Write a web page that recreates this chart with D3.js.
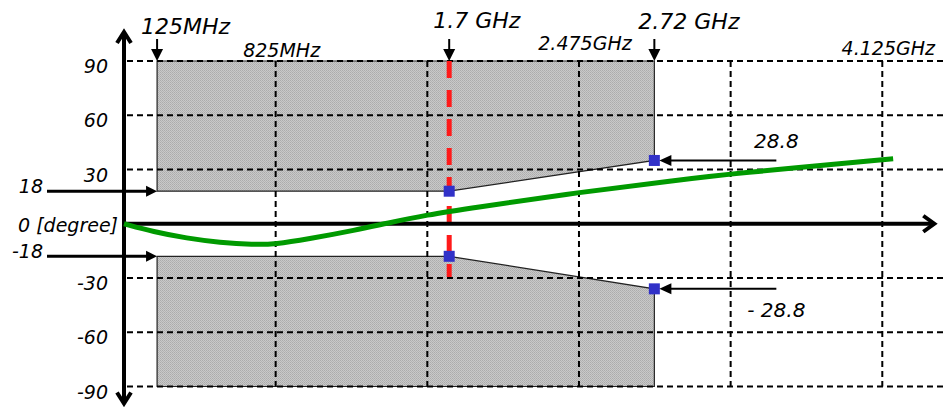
<!DOCTYPE html>
<html>
<head>
<meta charset="utf-8">
<script src="https://cdn.jsdelivr.net/npm/d3@7"></script>
<style>
  body { margin: 0; background: #fff; }
  text { font-family: "DejaVu Sans", sans-serif; font-style: italic; fill: #000; }
</style>
</head>
<body>
<div id="chart"></div>
<script>
// phase axis ticks [degree]
const yTicks = [90, 60, 30, -30, -60, -90];
// vertical grid lines [MHz]
const gridFreqs = [825, 1650, 2475, 3300, 4125];
const gridLabelFreqs = [825, 2475, 4125];
const gridLabels = ["825MHz", "2.475GHz", "4.125GHz"];
// band edges where the top arrows point [MHz, as drawn]
const edgeFreqs = [180, 1769, 2885];
const edgeLabels = ["125MHz", "1.7 GHz", "2.72 GHz"];
// phase limits [degree]
const innerLimits = [18, -18];
const innerLabels = ["18", "-18"];
const outerLimits = [35, -36];
const outerLabels = ["28.8", "- 28.8"];
// measured phase curve
const phaseFreq = [0, 159, 341, 522, 703, 825, 994, 1266, 1429, 1649, 1882, 2474, 3024, 3299, 4184];
const phaseDeg = [0, -4.4, -8.0, -10.4, -11.6, -11.3, -8.6, -3.4, 0.3, 4.9, 8.6, 17.4, 24.2, 27.6, 36.0];

const width = 943;
const height = 407;

const svg = d3.select("#chart")
  .append("svg")
  .attr("width", width)
  .attr("height", height);

const x = d3.scaleLinear().domain([0, 4125]).range([124, 882.3]);
const y = d3.scaleLinear().domain([-90, 90]).range([386.5, 61]);

// fine hatch fill for the forbidden zones
const pat = svg.append("defs").append("pattern")
  .attr("id", "hatch")
  .attr("patternUnits", "userSpaceOnUse")
  .attr("width", 2)
  .attr("height", 2);
pat.append("rect").attr("width", 2).attr("height", 2).attr("fill", "#c9c9c9");
pat.append("rect").attr("width", 1).attr("height", 1).attr("fill", "#acacac");
pat.append("rect").attr("x", 1).attr("y", 1).attr("width", 1).attr("height", 1).attr("fill", "#b4b4b4");

const f0 = edgeFreqs[0], f1 = edgeFreqs[1], f2 = edgeFreqs[2];
const bands = [
  [[f0, 90], [f2, 90], [f2, outerLimits[0]], [f1, innerLimits[0]], [f0, innerLimits[0]]],
  [[f0, -90], [f2, -90], [f2, outerLimits[1]], [f1, innerLimits[1]], [f0, innerLimits[1]]]
];
const polyLine = d3.line().x(d => x(d[0])).y(d => y(d[1]));

svg.selectAll(".band")
  .data(bands)
  .enter()
  .append("path")
  .attr("class", "band")
  .attr("d", d => polyLine(d) + "Z")
  .attr("fill", "url(#hatch)")
  .attr("stroke", "#222")
  .attr("stroke-width", 1.2);

// grid
svg.selectAll(".hgrid")
  .data(yTicks)
  .enter()
  .append("line")
  .attr("class", "hgrid")
  .attr("x1", x(0) + 3)
  .attr("x2", width)
  .attr("y1", d => y(d))
  .attr("y2", d => y(d))
  .attr("stroke", "#000")
  .attr("stroke-width", 2)
  .attr("stroke-dasharray", "6,4");

svg.selectAll(".vgrid")
  .data(gridFreqs)
  .enter()
  .append("line")
  .attr("class", "vgrid")
  .attr("x1", d => x(d))
  .attr("x2", d => x(d))
  .attr("y1", y(90))
  .attr("y2", y(-90))
  .attr("stroke", "#000")
  .attr("stroke-width", 2)
  .attr("stroke-dasharray", "6,4");

// 1.7 GHz red marker line
svg.append("line")
  .attr("x1", x(f1)).attr("x2", x(f1))
  .attr("y1", y(90)).attr("y2", y(-29.5))
  .attr("stroke", "#ff1a1a")
  .attr("stroke-width", 5)
  .attr("stroke-dasharray", "17,12");

// axes with open arrow heads
const x0 = x(0);
const yTop = y(90) - 30, yBot = y(-90) + 18;
svg.append("line")
  .attr("x1", x0).attr("x2", x0)
  .attr("y1", yTop + 2).attr("y2", yBot - 2)
  .attr("stroke", "#000").attr("stroke-width", 4);
svg.append("path")
  .attr("d", `M${x0 - 7},${yTop + 12} L${x0},${yTop + 1} L${x0 + 7},${yTop + 12}`)
  .attr("fill", "none").attr("stroke", "#000").attr("stroke-width", 4);
svg.append("path")
  .attr("d", `M${x0 - 7},${yBot - 12} L${x0},${yBot - 1} L${x0 + 7},${yBot - 12}`)
  .attr("fill", "none").attr("stroke", "#000").attr("stroke-width", 4);

const xEnd = x(4125) + 53;
svg.append("line")
  .attr("x1", x0).attr("x2", xEnd - 2)
  .attr("y1", y(0)).attr("y2", y(0))
  .attr("stroke", "#000").attr("stroke-width", 4);
svg.append("path")
  .attr("d", `M${xEnd - 12},${y(0) - 8} L${xEnd - 1},${y(0)} L${xEnd - 12},${y(0) + 8}`)
  .attr("fill", "none").attr("stroke", "#000").attr("stroke-width", 4);

// measured phase
const phaseData = phaseFreq.map((f, i) => [f, phaseDeg[i]]);
svg.append("path")
  .datum(phaseData)
  .attr("fill", "none")
  .attr("stroke", "#009a00")
  .attr("stroke-width", 5)
  .attr("d", d3.line().x(d => x(d[0])).y(d => y(d[1])).curve(d3.curveBasis));

// blue corner markers
const markers = [[f1, innerLimits[0]], [f1, innerLimits[1]], [f2, outerLimits[0]], [f2, outerLimits[1]]];
svg.selectAll(".mark")
  .data(markers)
  .enter()
  .append("rect")
  .attr("class", "mark")
  .attr("x", d => x(d[0]) - 5.5)
  .attr("y", d => y(d[1]) - 5.5)
  .attr("width", 11)
  .attr("height", 11)
  .attr("fill", "#3131c8");

// top arrows + labels
const edgeDy = [34, 28, 29];
edgeFreqs.forEach((f, i) => {
  const xx = x(f);
  svg.append("line")
    .attr("x1", xx).attr("x2", xx)
    .attr("y1", y(90) - 22).attr("y2", y(90) - 10)
    .attr("stroke", "#000").attr("stroke-width", 2);
  svg.append("path")
    .attr("d", `M${xx - 6},${y(90) - 12} L${xx + 6},${y(90) - 12} L${xx},${y(90)} Z`)
    .attr("fill", "#000");
  svg.append("text")
    .attr("x", xx - 16)
    .attr("y", edgeDy[i])
    .attr("font-size", 22)
    .text(edgeLabels[i]);
});

// grid frequency labels
const gridDy = [57, 50, 55];
svg.selectAll(".glabel")
  .data(gridLabelFreqs)
  .enter()
  .append("text")
  .attr("class", "glabel")
  .attr("x", d => x(d) + 6)
  .attr("y", (d, i) => gridDy[i])
  .attr("text-anchor", "middle")
  .attr("font-size", 19)
  .text((d, i) => gridLabels[i]);

// y tick labels
svg.selectAll(".ylabel")
  .data(yTicks)
  .enter()
  .append("text")
  .attr("class", "ylabel")
  .attr("x", 108)
  .attr("y", d => y(d) + 12)
  .attr("text-anchor", "end")
  .attr("font-size", 19)
  .text(d => d);

svg.append("text")
  .attr("x", 118)
  .attr("y", y(0) + 8)
  .attr("text-anchor", "end")
  .attr("font-size", 19)
  .text("0 [degree]");

// inner limit arrows from the left
innerLimits.forEach((v, i) => {
  const yy = y(v), tip = x(f0);
  svg.append("line")
    .attr("x1", 47).attr("x2", tip - 8)
    .attr("y1", yy).attr("y2", yy)
    .attr("stroke", "#000").attr("stroke-width", 3);
  svg.append("path")
    .attr("d", `M${tip - 11},${yy - 5.5} L${tip},${yy} L${tip - 11},${yy + 5.5} Z`)
    .attr("fill", "#000");
  svg.append("text")
    .attr("x", 43)
    .attr("y", yy + 2)
    .attr("text-anchor", "end")
    .attr("font-size", 19)
    .text(innerLabels[i]);
});

// outer limit arrows from the right
const outerDy = [-12, 28];
outerLimits.forEach((v, i) => {
  const yy = y(v), tip = x(f2) + 5;
  const tail = x(f2) + 122;
  svg.append("line")
    .attr("x1", tip + 8).attr("x2", tail)
    .attr("y1", yy).attr("y2", yy)
    .attr("stroke", "#000").attr("stroke-width", 2);
  svg.append("path")
    .attr("d", `M${tip + 12},${yy - 5.5} L${tip},${yy} L${tip + 12},${yy + 5.5} Z`)
    .attr("fill", "#000");
  svg.append("text")
    .attr("x", tail)
    .attr("y", yy + outerDy[i])
    .attr("text-anchor", "middle")
    .attr("font-size", 20)
    .text(outerLabels[i]);
});
</script>
</body>
</html>
